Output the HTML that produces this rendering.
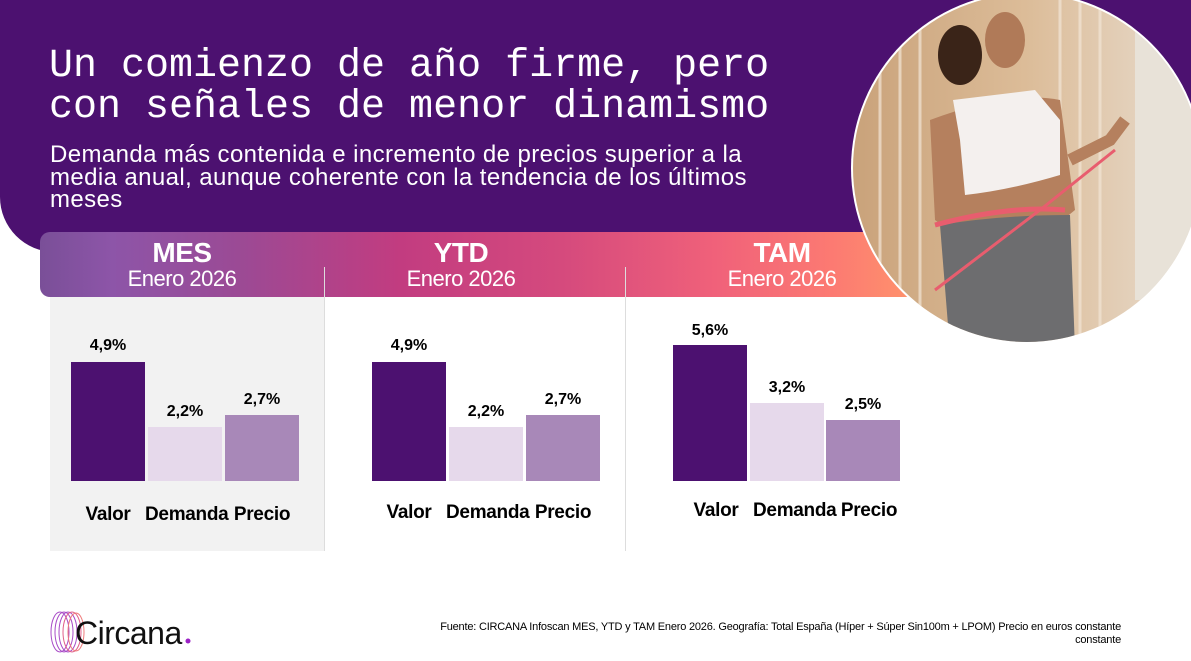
<!DOCTYPE html>
<html><head><meta charset="utf-8"><style>
*{margin:0;padding:0;box-sizing:border-box}
body{width:1191px;height:661px;position:relative;background:#fff;overflow:hidden;font-family:"Liberation Sans",sans-serif}
.abs{position:absolute}
#hdr{left:0;top:0;width:1191px;height:252px;background:#4c1170;border-bottom-left-radius:55px}
h1{position:absolute;left:49px;top:46px;font-family:"Liberation Mono",monospace;font-weight:normal;font-size:40px;line-height:41px;color:#fff;white-space:pre}
.sub{left:50px;top:144px;color:#fff;font-size:24px;line-height:22.5px;white-space:nowrap;letter-spacing:0.4px}
#band{left:40px;top:232px;width:900px;height:65px;border-radius:10px 0 0 10px;background:linear-gradient(90deg,#7a4f98 0%,#8d55a8 8%,#9b4a95 22%,#c23c80 40%,#d54a7d 58%,#f0617a 75%,#fc7a72 88%,#ff9a6a 100%)}
.hd{color:#fff;text-align:center;width:280px}
.hd b{display:block;font-size:28px;line-height:30px;letter-spacing:-0.5px}
.hd span{display:block;font-size:22px;line-height:22px;letter-spacing:-0.5px}
.vl{width:1px;background:#ddd;top:267px;height:284px}
.bar{position:absolute}
.v{position:absolute;width:74px;text-align:center;font-weight:bold;font-size:16px}
.c{position:absolute;width:80px;text-align:center;font-weight:bold;font-size:19px;letter-spacing:-0.3px}
.foot{right:70px;top:621px;font-size:11px;text-align:right;line-height:13px;color:#000;letter-spacing:-0.2px}
</style></head><body>
<div id="hdr" class="abs"></div>
<div class="abs" style="left:1030px;top:175px;width:170px;height:90px;background:#fff"></div>
<h1>Un comienzo de año firme, pero
con señales de menor dinamismo</h1>
<div class="abs sub">Demanda más contenida e incremento de precios superior a la<br>media anual, aunque coherente con la tendencia de los últimos<br>meses</div>
<div id="band" class="abs"></div>
<div class="abs" style="left:50px;top:297px;width:274px;height:254px;background:#f2f2f2"></div>
<div class="abs vl" style="left:324px"></div>
<div class="abs vl" style="left:625px"></div>
<div class="abs hd" style="left:42px;top:238px"><b>MES</b><span>Enero 2026</span></div>
<div class="abs hd" style="left:321px;top:238px"><b>YTD</b><span>Enero 2026</span></div>
<div class="abs hd" style="left:642px;top:238px"><b>TAM</b><span>Enero 2026</span></div>

<div class="bar" style="left:71px;top:362px;width:74px;height:119px;background:#4c1170"></div>
<div class="bar" style="left:148px;top:427px;width:74px;height:54px;background:#e6d9eb"></div>
<div class="bar" style="left:225px;top:415px;width:74px;height:66px;background:#a888b8"></div>
<div class="v" style="left:71px;top:337px">4,9%</div>
<div class="v" style="left:148px;top:403px">2,2%</div>
<div class="v" style="left:225px;top:391px">2,7%</div>
<div class="c" style="left:68px;top:504px">Valor</div>
<div class="c" style="left:145px;top:504px">Demanda</div>
<div class="c" style="left:222px;top:504px">Precio</div>

<div class="bar" style="left:372px;top:362px;width:74px;height:119px;background:#4c1170"></div>
<div class="bar" style="left:449px;top:427px;width:74px;height:54px;background:#e6d9eb"></div>
<div class="bar" style="left:526px;top:415px;width:74px;height:66px;background:#a888b8"></div>
<div class="v" style="left:372px;top:337px">4,9%</div>
<div class="v" style="left:449px;top:403px">2,2%</div>
<div class="v" style="left:526px;top:391px">2,7%</div>
<div class="c" style="left:369px;top:502px">Valor</div>
<div class="c" style="left:446px;top:502px">Demanda</div>
<div class="c" style="left:523px;top:502px">Precio</div>

<div class="bar" style="left:673px;top:345px;width:74px;height:136px;background:#4c1170"></div>
<div class="bar" style="left:750px;top:403px;width:74px;height:78px;background:#e6d9eb"></div>
<div class="bar" style="left:826px;top:420px;width:74px;height:61px;background:#a888b8"></div>
<div class="v" style="left:673px;top:322px">5,6%</div>
<div class="v" style="left:750px;top:379px">3,2%</div>
<div class="v" style="left:826px;top:396px">2,5%</div>
<div class="c" style="left:676px;top:500px">Valor</div>
<div class="c" style="left:753px;top:500px">Demanda</div>
<div class="c" style="left:829px;top:500px">Precio</div>

<svg class="abs" style="left:0;top:0" width="1191" height="661">
<defs><clipPath id="cp"><circle cx="1027" cy="168" r="174"/></clipPath>
<linearGradient id="wood" x1="0" x2="1"><stop offset="0" stop-color="#c9a27a"/><stop offset="0.5" stop-color="#dcbc98"/><stop offset="1" stop-color="#e8ddd0"/></linearGradient></defs>
<circle cx="1027" cy="168" r="176" fill="#fff"/>
<g clip-path="url(#cp)">
<rect x="850" y="-10" width="350" height="360" fill="url(#wood)"/>
<g stroke="#f3e6d6" stroke-width="3" opacity="0.7">
<line x1="880" y1="0" x2="880" y2="340"/><line x1="900" y1="0" x2="900" y2="340"/><line x1="920" y1="0" x2="920" y2="340"/><line x1="1060" y1="0" x2="1060" y2="340"/><line x1="1080" y1="0" x2="1080" y2="340"/><line x1="1100" y1="0" x2="1100" y2="340"/></g>
<rect x="1135" y="0" width="60" height="300" fill="#e8e2d8"/>
<ellipse cx="960" cy="55" rx="22" ry="30" fill="#3a2418"/>
<ellipse cx="1005" cy="40" rx="20" ry="28" fill="#b07a58"/>
<path d="M930 120 Q1010 90 1060 100 L1075 210 Q1040 240 1010 240 Q960 240 935 220 Z" fill="#b5805e"/>
<path d="M953 100 L1035 90 L1060 120 L1060 175 Q1010 190 965 195 L960 140 Z" fill="#f4f0ee"/>
<path d="M940 225 Q1000 215 1070 215 L1075 350 L950 350 Z" fill="#6d6d6f"/>
<path d="M935 225 Q1010 205 1065 210" stroke="#e85d6e" stroke-width="5" fill="none"/>
<path d="M935 290 L1040 210 L1115 150" stroke="#e85d6e" stroke-width="3" fill="none"/>
<path d="M1070 160 L1110 140 L1125 120" stroke="#b5805e" stroke-width="12" fill="none"/>
</g>
<g fill="none" stroke="#a94dc7" stroke-width="1">
<ellipse cx="60" cy="632" rx="9" ry="20"/><ellipse cx="64" cy="632" rx="9" ry="20"/><ellipse cx="68" cy="632" rx="9" ry="20"/><ellipse cx="72" cy="632" rx="9" ry="20" stroke="#e0608a"/><ellipse cx="76" cy="632" rx="8" ry="19" stroke="#ef7a7a"/></g>
<text x="75" y="644" font-family="Liberation Sans" font-size="32" fill="#111" letter-spacing="-0.5">Circana</text>
<circle cx="188" cy="641" r="2.5" fill="#9b22c5"/>
</svg>
<div class="abs foot">Fuente: CIRCANA Infoscan MES, YTD y TAM Enero 2026. Geografía: Total España (Híper + Súper Sin100m + LPOM) Precio en euros constante<br>constante</div>
</body></html>
